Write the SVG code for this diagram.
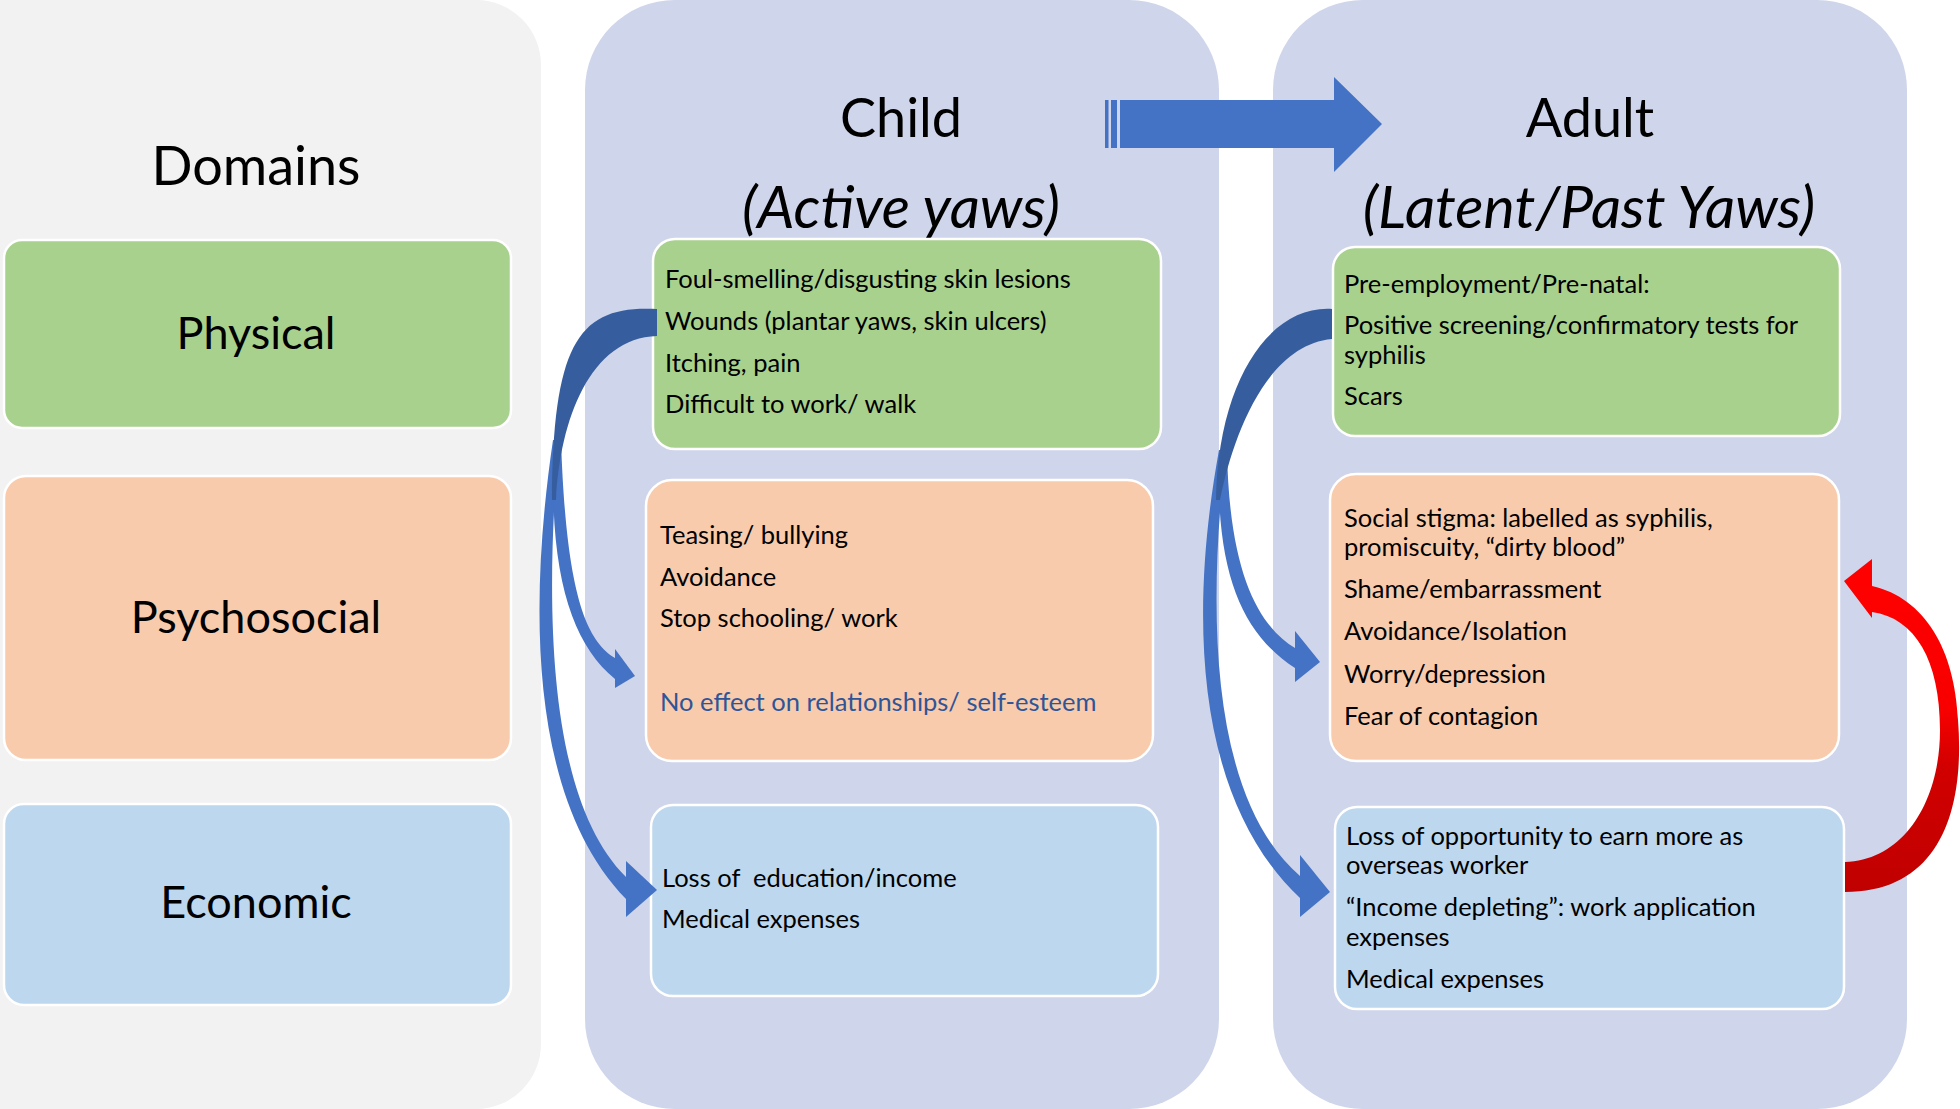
<svg xmlns="http://www.w3.org/2000/svg" width="1960" height="1109" viewBox="0 0 1960 1109">
<style>
.pg{fill:#f2f2f2}
.pn{fill:#cfd5ea}
.box{stroke:#ffffff;stroke-width:2.5}
.green{fill:#a9d18e}
.orange{fill:#f8cbad}
.blue{fill:#bdd7ee}
text{font-family:Lato,"Noto Sans",sans-serif;fill:#000000}
.h{font-size:54px;text-anchor:middle}
.hi{font-size:59px;text-anchor:middle;font-style:italic}
.d{font-size:45px;text-anchor:middle}
.t{font-size:25.5px}
.note{fill:#2f5597}
.dark{fill:#365e9f}
.light{fill:#4472c4}
</style>
<defs>
<linearGradient id="redg" gradientUnits="userSpaceOnUse" x1="0" y1="560" x2="0" y2="892">
<stop offset="0" stop-color="#ff0000"/>
<stop offset="0.45" stop-color="#f80000"/>
<stop offset="0.62" stop-color="#d20000"/>
<stop offset="1" stop-color="#c00000"/>
</linearGradient>
</defs>
<rect x="0" y="0" width="1960" height="1109" fill="#ffffff"/>
<g id="panels">
<rect class="pg" x="-100" y="0" width="641" height="1109" rx="65"/>
<rect class="pn" x="585" y="0" width="634" height="1109" rx="90"/>
<rect class="pn" x="1273" y="0" width="634" height="1109" rx="90"/>
</g>
<g id="domains">
<text class="h" x="256" y="185">Domains</text>
</g>
<g id="physical">
<rect class="box green" x="4" y="240" width="507" height="188" rx="18"/>
<text class="d" x="256" y="349">Physical</text>
</g>
<g id="psychosocial">
<rect class="box orange" x="4" y="476" width="507" height="284" rx="22"/>
<text class="d" x="256" y="633">Psychosocial</text>
</g>
<g id="economic">
<rect class="box blue" x="4" y="804" width="507" height="201" rx="20"/>
<text class="d" x="256" y="918">Economic</text>
</g>
<g id="child-header">
<text class="h" x="901" y="137">Child</text>
<text class="hi" x="901" y="228">(Active yaws)</text>
</g>
<g id="adult-header">
<text class="h" x="1590" y="137">Adult</text>
<text class="hi" x="1589" y="228">(Latent/Past Yaws)</text>
</g>
<g id="child-physical">
<rect class="box green" x="653" y="239" width="508" height="210" rx="22"/>
<text class="t" x="665" y="288">Foul-smelling/disgusting skin lesions</text>
<text class="t" x="665" y="330">Wounds (plantar yaws, skin ulcers)</text>
<text class="t" x="665" y="372">Itching, pain</text>
<text class="t" x="665" y="413">Difficult to work/ walk</text>
</g>
<g id="child-psychosocial">
<rect class="box orange" x="646" y="480" width="507" height="281" rx="26"/>
<text class="t" x="660" y="544">Teasing/ bullying</text>
<text class="t" x="660" y="586">Avoidance</text>
<text class="t" x="660" y="627">Stop schooling/ work</text>
<text class="t note" x="660" y="711">No effect on relationships/ self-esteem</text>
</g>
<g id="child-economic">
<rect class="box blue" x="651" y="805" width="507" height="191" rx="22"/>
<text class="t" x="662" y="887" xml:space="preserve">Loss of  education/income</text>
<text class="t" x="662" y="928">Medical expenses</text>
</g>
<g id="adult-physical">
<rect class="box green" x="1333" y="247" width="507" height="189" rx="22"/>
<text class="t" x="1344" y="293">Pre-employment/Pre-natal:</text>
<text class="t" x="1344" y="334">Positive screening/confirmatory tests for</text>
<text class="t" x="1344" y="364">syphilis</text>
<text class="t" x="1344" y="405">Scars</text>
</g>
<g id="adult-psychosocial">
<rect class="box orange" x="1330" y="474" width="509" height="287" rx="26"/>
<text class="t" x="1344" y="527">Social stigma: labelled as syphilis,</text>
<text class="t" x="1344" y="556">promiscuity, “dirty blood”</text>
<text class="t" x="1344" y="598">Shame/embarrassment</text>
<text class="t" x="1344" y="640">Avoidance/Isolation</text>
<text class="t" x="1344" y="683">Worry/depression</text>
<text class="t" x="1344" y="725">Fear of contagion</text>
</g>
<g id="adult-economic">
<rect class="box blue" x="1335" y="807" width="509" height="202" rx="22"/>
<text class="t" x="1346" y="845">Loss of opportunity to earn more as</text>
<text class="t" x="1346" y="874">overseas worker</text>
<text class="t" x="1346" y="916">“Income depleting”: work application</text>
<text class="t" x="1346" y="946">expenses</text>
<text class="t" x="1346" y="988">Medical expenses</text>
</g>
<g id="connectors">
<g id="child-to-adult">
<rect class="light" x="1105" y="100" width="3.5" height="48"/>
<rect class="light" x="1111" y="100" width="6" height="48"/>
<path class="light" d="M1120,100 H1334 V77 L1382,124 L1334,172 V148 H1120 Z"/>
</g>
<g id="child-curved">
<path class="light" d="M553,440 C528,610 530,800 626,899 L626,877 C548,800 544,610 559,440 Z"/>
<path class="light" d="M626,861 L657,890 L626,917 Z"/>
<path class="light" d="M554,440 C548,570 570,642 615,679 L615,658 C585,640 566,590 561,440 Z"/>
<path class="light" d="M615,649 L635,676 L615,688 Z"/>
<path class="dark" d="M657,309 C580,305 553,340 552,500 L556,500 C560,420 590,338 657,336 Z"/>
</g>
<g id="adult-curved">
<path class="light" d="M1219,450 C1188,620 1196,800 1300,898 L1300,876 C1212,800 1206,620 1226,450 Z"/>
<path class="light" d="M1300,855 L1330,892 L1300,917 Z"/>
<path class="light" d="M1219,450 C1215,570 1240,632 1295,668 L1295,648 C1257,625 1229,570 1227,450 Z"/>
<path class="light" d="M1295,631 L1320,662 L1295,682 Z"/>
<path class="dark" d="M1332,309 C1270,305 1218,380 1216,500 L1220,500 C1232,440 1265,345 1332,339 Z"/>
</g>
<g id="economic-to-psychosocial">
<path fill="url(#redg)" d="M1845,892 C1940,892 1965,810 1958,720 C1955,650 1925,598 1872,586 L1872,559 L1844,581 L1872,618 L1872,612 C1915,618 1940,660 1940,730 C1940,800 1905,860 1845,862 Z"/>
</g>
</g>
</svg>
